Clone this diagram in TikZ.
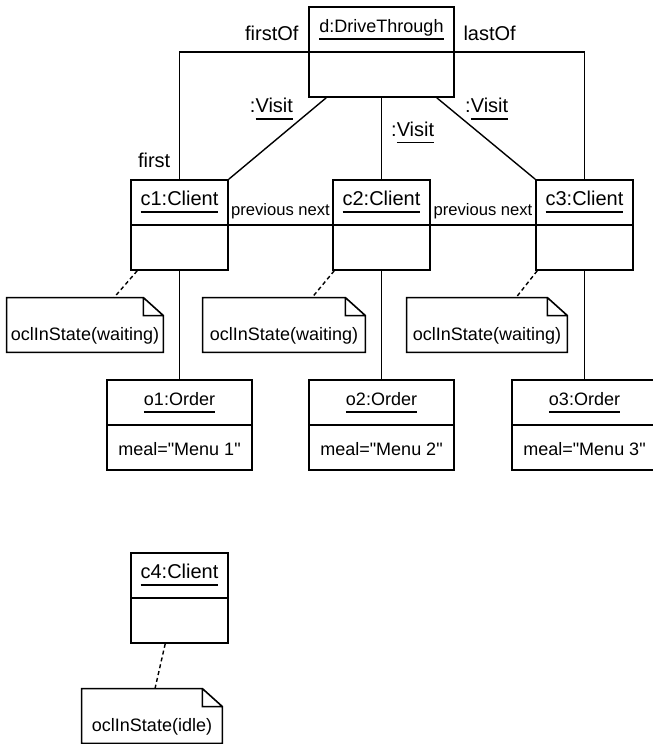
\documentclass[tikz,border=0pt]{standalone}
\usepackage{fontspec}
\setmainfont{Liberation Sans}[Ligatures=TeXOff]
\usepackage{tikz}

\newcommand\ulbox[2]{\setbox0=\hbox{#2}\leavevmode\rlap{\vrule width\wd0 height -2.8pt depth \dimexpr2.8pt+#1\relax}\box0}
\newcommand\fs[1]{\fontsize{#1}{#1}\selectfont}

\tikzset{
    obj/.style={draw, line width=0.8pt, minimum height=45pt, inner sep=0pt,
        path picture={\draw[line width=0.8pt] (path picture bounding box.west) -- (path picture bounding box.east);}},
    otitle/.style={anchor=base, inner sep=0pt},
    oattr/.style={anchor=base, inner sep=0pt, font=\fs{9}},
    noteframe/.style={minimum height=27pt, inner sep=0pt},
    notetxt/.style={anchor=base, inner sep=0pt, font=\fs{9}},
    link/.style={line width=0.7pt},
    notelink/.style={line width=0.7pt, dash pattern=on 2pt off 1.5pt},
    lbl/.style={inner sep=0pt, font=\fs{10}},
    rolelbl/.style={inner sep=0pt, font=\fs{8.3}, anchor=base, yshift=5pt}
}

\newcommand\objbox[6][9]{%
    \node[obj, minimum width=#4] (#2) at (#3) {};
    \node[otitle, font=\fs{#1}] (#2-t) at ([yshift=-13pt]#2.north) {\ulbox{1.2pt}{#5}};
    \node[oattr] (#2-a) at ([yshift=7.5pt]#2.south) {#6};
}
\newcommand\notebox[4]{%
    \node[noteframe, minimum width=#3] (#1) at (#2) {};
    \node[notetxt] (#1-t) at ([yshift=6pt]#1.south) {#4};
    \draw[line width=0.8pt] (#1.south west) -- (#1.north west) -- ([xshift=-10pt]#1.north east)
        -- ([yshift=-9pt]#1.north east) -- (#1.south east) -- cycle
        ([xshift=-10pt]#1.north east) |- ([yshift=-9pt]#1.north east);
}

\begin{document}
\begin{tikzpicture}[x=0.5pt, y=-0.5pt]
    \useasboundingbox (0,0) rectangle (653,744);

    \objbox{d}{381.5,52}{72.5pt}{d:DriveThrough}{}
    \objbox[10]{c1}{179.5,225}{48.5pt}{c1:Client}{}
    \objbox[10]{c2}{381.5,225}{48.5pt}{c2:Client}{}
    \objbox[10]{c3}{584.5,225}{48.5pt}{c3:Client}{}
    \objbox{o1}{179.5,425}{72.5pt}{o1:Order}{meal="Menu 1"}
    \objbox{o2}{381.5,425}{72.5pt}{o2:Order}{meal="Menu 2"}
    \objbox{o3}{584.5,425}{72.5pt}{o3:Order}{meal="Menu 3"}
    \objbox[10]{c4}{179.5,598}{48.5pt}{c4:Client}{}

    \notebox{n1}{85,325}{78pt}{oclInState(waiting)}
    \notebox{n2}{284,325}{81pt}{oclInState(waiting)}
    \notebox{n3}{487,325}{80pt}{oclInState(waiting)}
    \notebox{n4}{152,716}{70pt}{oclInState(idle)}

    \draw[link] (d.west) -| node[lbl, pos=0, anchor=base east, xshift=-4.5pt, yshift=6pt] (firstof) {firstOf}
        node[lbl, pos=1, anchor=base east, xshift=-4.25pt, yshift=6pt] (first) {first} (c1.north);
    \draw[link] (d.east) -| node[lbl, pos=0, anchor=base west, xshift=4pt, yshift=6pt] (lastof) {lastOf} (c3.north);
    \draw[link] ([xshift=9pt]d.south west) -- node[lbl, pos=0.18, anchor=base east, xshift=-7.5pt] (v1) {:\ulbox{0.8pt}{Visit}} (c1.north east);
    \draw[link] (d.south) -- node[lbl, pos=0.47, anchor=base west, xshift=4.5pt] (v2) {:\ulbox{0.8pt}{Visit}} (c2.north);
    \draw[link] ([xshift=-9pt]d.south east) -- node[lbl, pos=0.18, anchor=base west, xshift=5pt] (v3) {:\ulbox{0.8pt}{Visit}} (c3.north west);

    \draw[link] (c1.east) -- node[rolelbl] (pn1) {previous next} (c2.west);
    \draw[link] (c2.east) -- node[rolelbl] (pn2) {previous next} (c3.west);

    \draw[link] (c1.south) -- (o1.north);
    \draw[link] (c2.south) -- (o2.north);
    \draw[link] (c3.south) -- (o3.north);

    \draw[notelink] ([xshift=3.5pt]c1.south west) -- ([xshift=14.5pt]n1.north);
    \draw[notelink] ([xshift=1pt]c2.south west) -- ([xshift=14pt]n2.north);
    \draw[notelink] ([xshift=1pt]c3.south west) -- ([xshift=14.5pt]n3.north);
    \draw[notelink] ([xshift=17.5pt]c4.south west) -- ([xshift=1.5pt]n4.north);
\end{tikzpicture}
\end{document}
